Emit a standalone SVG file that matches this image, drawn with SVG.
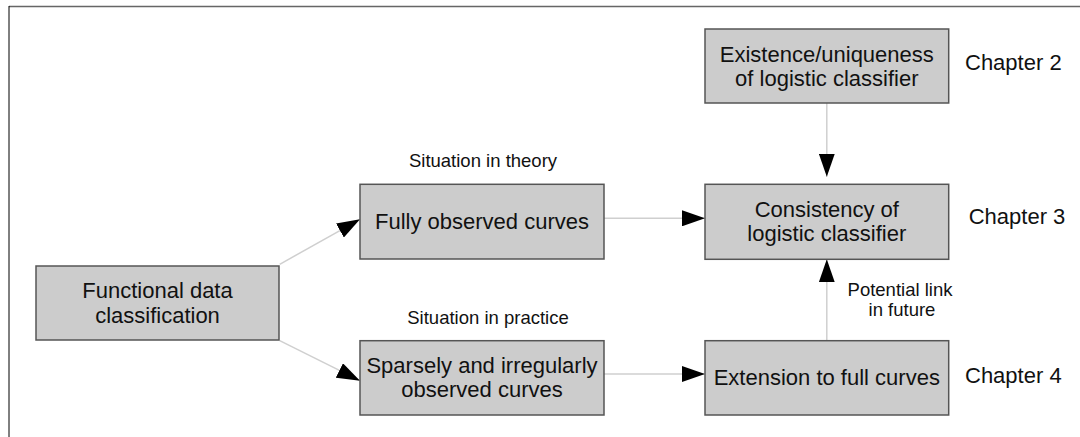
<svg xmlns="http://www.w3.org/2000/svg" width="1080" height="437" viewBox="0 0 1080 437">
<style>
.box{fill:#cccccc;stroke:#555555;stroke-width:1.5}
.t{font-family:"Liberation Sans",Arial,sans-serif;font-size:22px;fill:#111111;text-anchor:middle}
.s{font-family:"Liberation Sans",Arial,sans-serif;font-size:18.5px;fill:#111111;text-anchor:middle}
.ch{font-family:"Liberation Sans",Arial,sans-serif;font-size:22px;fill:#111111}
.c{stroke:#cfcfcf;stroke-width:1.5;fill:none;marker-end:url(#ah)}
</style>
<defs>
<marker id="ah" markerUnits="userSpaceOnUse" markerWidth="24" markerHeight="16" refX="23" refY="8" orient="auto">
<path d="M0,0 L23,8 L0,16 z" fill="#000000"/>
</marker>
</defs>
<rect width="1080" height="437" fill="#ffffff"/>
<line x1="9" y1="6.5" x2="1080" y2="6.5" stroke="#666666" stroke-width="1.5"/>
<line x1="9" y1="6" x2="9" y2="437" stroke="#000000" stroke-width="1"/>
<g id="connectors">
<line class="c" x1="279.7" y1="264.3" x2="360" y2="219.3"/>
<line class="c" x1="279.7" y1="340.7" x2="360" y2="380.7"/>
<line class="c" x1="604" y1="218.3" x2="705" y2="218.3"/>
<line class="c" x1="604" y1="374" x2="705" y2="374"/>
<line class="c" x1="826.8" y1="103" x2="826.8" y2="176.7"/>
<line class="c" x1="826.8" y1="340.7" x2="826.8" y2="259.3"/>
</g>
<g id="functional">
<rect class="box" x="36" y="266" width="243" height="74"/>
<text class="t" x="157.5" y="298.3">Functional data</text>
<text class="t" x="157.5" y="322.7">classification</text>
</g>
<g id="fully">
<rect class="box" x="360" y="184.3" width="244" height="74.7"/>
<text class="t" x="482" y="229.3">Fully observed curves</text>
</g>
<g id="sparsely">
<rect class="box" x="360" y="340.7" width="244" height="74.3"/>
<text class="t" x="482" y="372.7">Sparsely and irregularly</text>
<text class="t" x="482" y="397.3">observed curves</text>
</g>
<g id="existence">
<rect class="box" x="705" y="29" width="243.7" height="74"/>
<text class="t" x="826.8" y="61.7">Existence/uniqueness</text>
<text class="t" x="826.8" y="86">of logistic classifier</text>
</g>
<g id="consistency">
<rect class="box" x="705" y="184.3" width="243.7" height="75"/>
<text class="t" x="826.8" y="216.7">Consistency of</text>
<text class="t" x="826.8" y="241">logistic classifier</text>
</g>
<g id="extension">
<rect class="box" x="705" y="340.7" width="243.7" height="74.3"/>
<text class="t" x="826.8" y="385">Extension to full curves</text>
</g>
<g id="labels">
<text class="s" x="483" y="167.3">Situation in theory</text>
<text class="s" x="488" y="324">Situation in practice</text>
<text class="s" x="900" y="296">Potential link</text>
<text class="s" x="902" y="316">in future</text>
<text class="ch" x="965" y="70">Chapter 2</text>
<text class="ch" x="968.7" y="224">Chapter 3</text>
<text class="ch" x="965" y="383">Chapter 4</text>
</g>
</svg>
